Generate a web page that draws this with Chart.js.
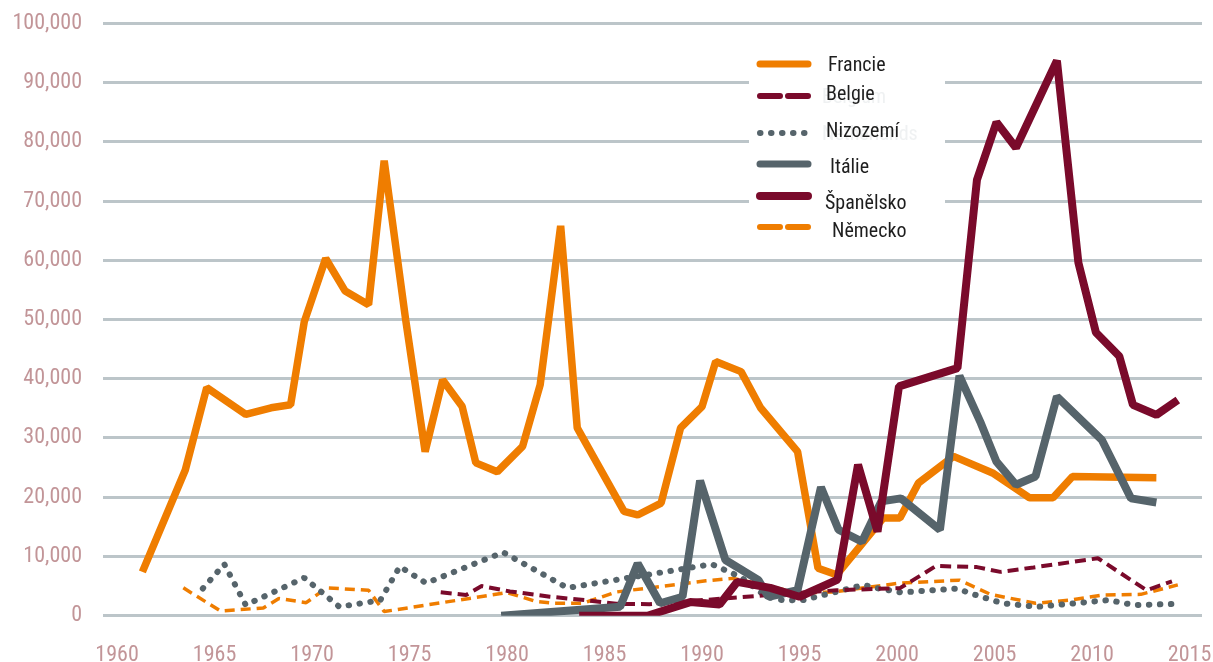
<!DOCTYPE html>
<html>
<head>
<meta charset="utf-8">
<script src="https://cdn.jsdelivr.net/npm/chart.js@4.4.0/dist/chart.umd.min.js"></script>
<style>
html,body{margin:0;padding:0;background:#fff;}
#wrap{width:1213px;height:662px;}
</style>
</head>
<body>
<div id="wrap"><canvas id="c" width="1213" height="662"></canvas></div>
<script>
// ---- data (year, value) ----
const xTickYears = [1960,1965,1970,1975,1980,1985,1990,1995,2000,2005,2010,2015];
const yTickValues = [0,10000,20000,30000,40000,50000,60000,70000,80000,90000,100000];

const seriesNames = ['Francie','Belgie','Nizozemí','Itálie','Španělsko','Německo'];

const franceYears = [1961.3,1963.5,1964.6,1966.6,1967.9,1968.9,1969.6,1970.7,1971.7,1972.9,1973.7,1974.8,1975.8,1976.7,1977.7,1978.4,1979.5,1980.8,1981.7,1982.75,1983.6,1986.0,1986.7,1987.9,1988.9,1990.0,1990.7,1992.0,1993.0,1994.9,1995.95,1996.9,1999.3,2000.15,2001.1,2002.9,2004.9,2006.8,2008.0,2009.0,2013.3];
const franceValues = [7400,24600,38500,34000,35100,35600,49600,60300,54800,52500,76800,50000,27700,39800,35300,25800,24300,28600,39000,65800,31700,17600,17000,19000,31700,35300,42900,41200,35100,27700,8000,6900,16500,16500,22400,26900,24100,19900,19900,23500,23300];

const belgiumYears = [1976.6,1977.9,1978.7,1980.15,1982.2,1984.1,1985.6,1987.3,1991.3,1993.1,1996.9,2000.15,2002.0,2004.1,2005.3,2007.0,2010.3,2012.8,2014.1];
const belgiumValues = [3950,3500,5000,4100,3200,2600,2000,1950,2950,3400,4300,4650,8400,8200,7400,8150,9700,4300,5800];

const netherlandsYears = [1964.4,1965.5,1966.6,1969.6,1971.4,1973.5,1974.5,1975.85,1979.8,1983.1,1990.5,1992.0,1993.3,1994.15,1995.2,1998.3,1998.9,2000.15,2000.8,2003.1,2003.6,2005.4,2007.2,2010.4,2010.9,2011.6,2012.3,2014.4];
const netherlandsValues = [4600,8700,1800,6400,1500,2600,8300,5500,10700,4700,8700,6500,3200,2600,2650,5200,4700,3950,4050,4600,3950,2100,1500,2500,2650,2100,1800,2000];

const italyYears = [1979.7,1985.8,1986.7,1987.85,1989.0,1989.9,1991.2,1992.9,1993.4,1994.9,1996.1,1997.0,1998.2,1999.2,2000.2,2002.2,2003.2,2004.3,2005.1,2006.1,2007.1,2008.2,2010.5,2012.0,2013.3];
const italyValues = [0,1500,8800,2100,3200,22800,9400,6000,3200,4300,21700,14500,12500,19300,19800,14500,40500,32500,26000,22100,23500,37000,29700,19800,19100];

const spainYears = [1983.7,1987.2,1989.4,1990.9,1991.8,1993.5,1995.0,1996.95,1998.0,1999.0,2000.1,2003.1,2004.1,2005.1,2006.1,2008.2,2009.3,2010.2,2011.4,2012.1,2013.3,2014.4];
const spainValues = [0,0,2300,1900,5700,4700,3200,6100,25500,14200,38700,41800,73600,83300,79000,93700,59600,47800,43800,35600,33900,36400];

const germanyYears = [1963.4,1965.3,1967.5,1968.3,1969.7,1970.75,1972.9,1973.7,1980.0,1981.5,1982.4,1983.9,1985.6,1990.2,1991.6,1995.0,1996.7,2000.15,2003.2,2004.8,2007.1,2008.9,2010.6,2012.5,2014.4];
const germanyValues = [4700,800,1300,2900,2200,4700,4300,700,3900,2400,2100,2100,4000,5900,6300,3800,4000,5500,6000,3600,2100,2650,3500,3600,5200];

// ---- styles ----
const ORANGE = '#ef7d00';
const DARKRED = '#7a0a2b';
const GRAY = '#56646b';
const FONT = "'Liberation Sans Narrow', 'Arial Narrow', 'Roboto Condensed', 'DejaVu Sans Condensed', sans-serif";

function pts(xs, ys){ return xs.map((x,i)=>({x:x, y:ys[i]})); }

const styles = [
  {color:ORANGE, width:7.5, dash:[], cap:'butt', order:2},
  {color:DARKRED, width:4, dash:[11,6], cap:'butt', order:3},
  {color:GRAY, width:6, dash:[0.5,10.5], cap:'round', order:4},
  {color:GRAY, width:8, dash:[], cap:'butt', order:1},
  {color:DARKRED, width:8, dash:[], cap:'butt', order:0},
  {color:ORANGE, width:3.5, dash:[10,6], cap:'butt', order:5}
];
const dataSets = [
  pts(franceYears, franceValues),
  pts(belgiumYears, belgiumValues),
  pts(netherlandsYears, netherlandsValues),
  pts(italyYears, italyValues),
  pts(spainYears, spainValues),
  pts(germanyYears, germanyValues)
];

const datasets = seriesNames.map((n,i)=>({
  label:n,
  data:dataSets[i],
  borderColor:styles[i].color,
  backgroundColor:styles[i].color,
  borderWidth:styles[i].width,
  borderDash:styles[i].dash,
  borderCapStyle:styles[i].cap,
  borderJoinStyle:'bevel',
  pointRadius:0,
  tension:0,
  fill:false,
  order:styles[i].order
}));

// custom legend drawn inside plot
const legendItems = [
  {label:'Francie',   y:64,  tx:828, by:70.5, color:ORANGE, width:7, dash:[], cap:'round'},
  {label:'Belgie',    y:96,  tx:826, by:100,  color:DARKRED, width:6, dash:[20,8], cap:'round', ghost:'Belgium'},
  {label:'Nizozemí',  y:133, tx:826, by:137,  color:GRAY, width:6, dash:[0.5,10.5], cap:'round', ghost:'Netherlands'},
  {label:'Itálie',    y:164, tx:830, by:172.5,color:GRAY, width:7, dash:[], cap:'round'},
  {label:'Španělsko', y:196, tx:825, by:209,  color:DARKRED, width:8, dash:[], cap:'round'},
  {label:'Německo',   y:227, tx:832, by:236.5,color:ORANGE, width:6, dash:[20,8], cap:'round'}
];

const legendPlugin = {
  id:'insideLegend',
  beforeDatasetsDraw(chart){
    const ctx = chart.ctx;
    ctx.save();
    ctx.fillStyle = '#ffffff';
    ctx.fillRect(749, 36, 196, 208);
    ctx.font = "20px " + FONT;
    ctx.textBaseline = 'alphabetic';
    legendItems.forEach(it=>{
      if (it.ghost){
        ctx.fillStyle = 'rgba(225,229,232,0.55)';
        ctx.fillText(it.ghost, it.tx-4, it.by+3);
      }
    });
    legendItems.forEach(it=>{
      ctx.beginPath();
      ctx.strokeStyle = it.color;
      ctx.lineWidth = it.width;
      ctx.lineCap = it.cap;
      ctx.setLineDash(it.dash);
      ctx.moveTo(760, it.y);
      ctx.lineTo(808, it.y);
      ctx.stroke();
      ctx.setLineDash([]);
      ctx.fillStyle = '#1e1e1e';
      ctx.fillText(it.label, it.tx, it.by);
    });
    ctx.restore();
  }
};

new Chart(document.getElementById('c'), {
  type:'line',
  data:{datasets:datasets},
  plugins:[legendPlugin],
  options:{
    responsive:false,
    devicePixelRatio:1,
    animation:false,
    layout:{padding:{top:23.3, right:11, left:0, bottom:0}},
    plugins:{legend:{display:false}, tooltip:{enabled:false}},
    scales:{
      x:{
        type:'linear',
        min:1959.28,
        max:2015.64,
        afterBuildTicks(scale){ scale.ticks = xTickYears.map(v=>({value:v})); },
        afterFit(scale){ scale.height = 46.3; scale.paddingLeft = 0; scale.paddingRight = 0; },
        grid:{display:false, drawTicks:false},
        border:{display:false},
        ticks:{
          color:'#c29598',
          font:{family:FONT, size:22},
          padding:27,
          maxRotation:0,
          autoSkip:false,
          callback:(v)=>String(v)
        }
      },
      y:{
        min:0,
        max:100000,
        afterBuildTicks(scale){ scale.ticks = yTickValues.map(v=>({value:v})); },
        afterFit(scale){ scale.width = 103; scale.paddingTop = 0; scale.paddingBottom = 0; },
        grid:{color:'#bcc5c9', lineWidth:3, drawTicks:false},
        border:{display:false},
        ticks:{
          color:'#c29598',
          font:{family:FONT, size:22},
          padding:21,
          callback:(v)=>v.toLocaleString('en-US')
        }
      }
    }
  }
});
</script>
</body>
</html>
